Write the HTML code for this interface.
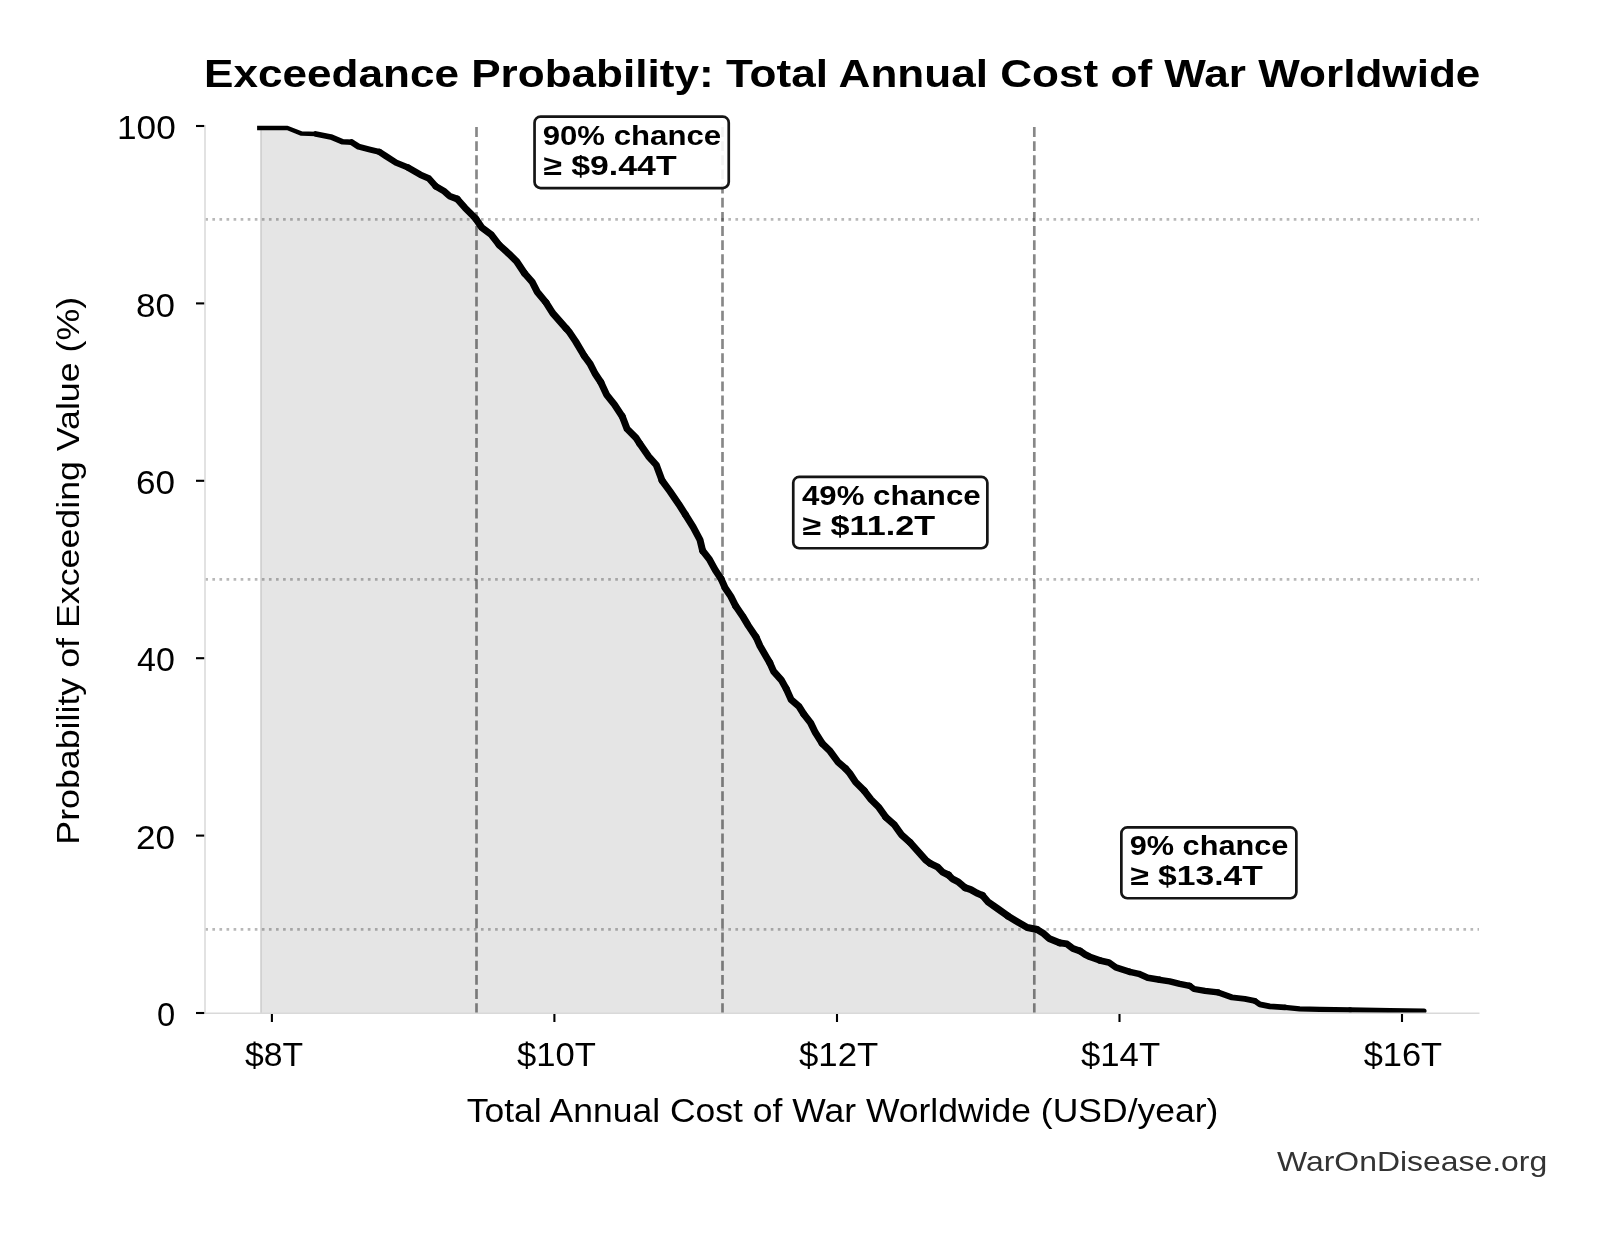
<!DOCTYPE html>
<html><head><meta charset="utf-8"><style>
html,body{margin:0;padding:0;background:#fff;width:1604px;height:1234px;overflow:hidden;}
svg{display:block;font-family:"Liberation Sans", sans-serif;will-change:transform;}
</style></head><body>
<svg width="1604" height="1234" viewBox="0 0 1604 1234">
<rect width="1604" height="1234" fill="#ffffff"/>
<path d="M261.0,128.0 L287.4,128.0 L301.6,133.6 L315.8,133.9 L330.8,136.9 L342.7,141.8 L351.7,142.2 L358.5,146.6 L370.0,149.6 L379.4,151.9 L385.3,155.8 L396.0,162.6 L407.7,167.4 L420.3,174.7 L429.0,178.6 L435.9,186.4 L443.6,190.8 L449.5,196.1 L457.2,199.0 L465.0,207.8 L472.8,215.6 L475.8,218.8 L481.7,227.5 L491.4,234.8 L499.2,245.0 L508.9,253.8 L516.7,261.5 L524.5,273.2 L532.2,282.0 L537.1,291.7 L545.9,302.4 L552.7,313.1 L559.5,320.9 L566.3,328.6 L569.7,332.6 L575.6,341.4 L584.3,356.0 L590.1,363.8 L595.0,373.5 L600.8,382.2 L606.7,394.9 L614.5,404.6 L622.2,416.3 L627.1,428.9 L635.9,437.7 L639.7,443.6 L648.5,456.3 L656.3,465.0 L662.1,480.6 L669.9,491.3 L678.6,503.9 L685.4,514.6 L693.2,527.2 L700.0,539.9 L702.6,550.7 L709.4,559.4 L715.3,570.1 L721.1,578.9 L725.0,587.7 L730.8,596.4 L735.7,606.1 L742.5,615.9 L748.3,625.6 L756.1,637.2 L760.0,646.0 L766.8,657.7 L769.7,662.6 L773.6,671.4 L781.4,680.1 L786.3,688.9 L791.1,699.6 L798.9,706.4 L803.8,714.2 L810.6,722.9 L815.4,732.7 L822.2,743.4 L830.0,751.1 L837.8,761.8 L845.6,768.6 L849.7,773.3 L855.6,782.1 L864.3,790.8 L871.1,799.6 L878.9,807.4 L885.7,817.1 L894.5,824.9 L901.3,834.6 L910.0,842.4 L917.8,851.1 L925.6,859.9 L930.0,863.3 L937.8,867.2 L942.6,872.1 L948.5,875.0 L952.4,878.9 L958.2,881.8 L965.0,887.7 L970.8,889.6 L976.7,893.0 L982.5,895.4 L988.3,902.2 L998.1,909.0 L1007.8,915.9 L1015.6,920.7 L1027.2,927.5 L1037.0,929.5 L1042.8,932.9 L1049.0,938.4 L1060.0,942.9 L1066.9,943.9 L1072.9,948.4 L1079.9,950.9 L1084.9,954.4 L1089.9,956.9 L1099.9,960.4 L1108.8,962.4 L1115.8,967.4 L1129.8,971.8 L1138.8,973.8 L1147.7,977.8 L1159.7,979.8 L1169.7,981.3 L1179.7,983.8 L1189.6,985.8 L1194.0,989.0 L1205.0,990.9 L1217.9,992.4 L1231.9,997.4 L1244.9,998.9 L1254.8,1000.9 L1259.8,1004.4 L1269.8,1006.4 L1284.8,1007.4 L1299.7,1008.9 L1319.7,1009.4 L1350.0,1009.9 L1390.0,1010.5 L1424.0,1011.0 L1424.0,1013.2 L261.0,1013.2 Z" fill="#e5e5e5"/>
<line x1="261.0" y1="128.0" x2="261.0" y2="1013" stroke="#c6c6c6" stroke-width="1.3"/>
<line x1="205.3" y1="219.4" x2="1479" y2="219.4" stroke="#000000" stroke-opacity="0.28" stroke-width="2.667" stroke-dasharray="2.667 4.401"/>
<line x1="205.3" y1="579.4" x2="1479" y2="579.4" stroke="#000000" stroke-opacity="0.28" stroke-width="2.667" stroke-dasharray="2.667 4.401"/>
<line x1="205.3" y1="929.4" x2="1479" y2="929.4" stroke="#000000" stroke-opacity="0.28" stroke-width="2.667" stroke-dasharray="2.667 4.401"/>
<line x1="476.5" y1="127.1" x2="476.5" y2="1013" stroke="#000000" stroke-opacity="0.47" stroke-width="2.667" stroke-dasharray="9.87 4.26"/>
<line x1="722.5" y1="127.1" x2="722.5" y2="1013" stroke="#000000" stroke-opacity="0.47" stroke-width="2.667" stroke-dasharray="9.87 4.26"/>
<line x1="1034.3" y1="127.1" x2="1034.3" y2="1013" stroke="#000000" stroke-opacity="0.47" stroke-width="2.667" stroke-dasharray="9.87 4.26"/>
<clipPath id="ax"><rect x="205" y="110" width="1274" height="903.2"/></clipPath>
<g clip-path="url(#ax)" fill="none" stroke="#000" stroke-linejoin="round" stroke-linecap="round">
<path d="M257.1,128.0 L287.4,128.0 L301.6,133.6 L315.8,133.9" stroke-width="4.54" stroke-linecap="butt"/>
<path d="M315.8,133.9 L330.8,136.9 L342.7,141.8 L351.7,142.2" stroke-width="5.65"/>
<path d="M351.7,142.2 L358.5,146.6 L370.0,149.6 L379.4,151.9" stroke-width="6.06"/>
<path d="M379.4,151.9 L385.3,155.8 L396.0,162.6 L407.7,167.4" stroke-width="6.42"/>
<path d="M407.7,167.4 L420.3,174.7 L429.0,178.6 L435.9,186.4" stroke-width="6.61"/>
<path d="M435.9,186.4 L443.6,190.8 L449.5,196.1 L457.2,199.0" stroke-width="6.73"/>
<path d="M457.2,199.0 L465.0,207.8 L472.8,215.6 L475.8,218.8" stroke-width="6.83"/>
<path d="M475.8,218.8 L481.7,227.5 L491.4,234.8 L499.2,245.0" stroke-width="6.94"/>
<path d="M499.2,245.0 L508.9,253.8 L516.7,261.5 L524.5,273.2" stroke-width="7.00"/>
<path d="M524.5,273.2 L532.2,282.0 L537.1,291.7 L545.9,302.4" stroke-width="7.00"/>
<path d="M545.9,302.4 L552.7,313.1 L559.5,320.9 L566.3,328.6" stroke-width="7.00"/>
<path d="M566.3,328.6 L569.7,332.6 L575.6,341.4 L584.3,356.0" stroke-width="7.00"/>
<path d="M584.3,356.0 L590.1,363.8 L595.0,373.5 L600.8,382.2" stroke-width="7.00"/>
<path d="M600.8,382.2 L606.7,394.9 L614.5,404.6 L622.2,416.3" stroke-width="7.00"/>
<path d="M622.2,416.3 L627.1,428.9 L635.9,437.7 L639.7,443.6" stroke-width="7.00"/>
<path d="M639.7,443.6 L648.5,456.3 L656.3,465.0 L662.1,480.6" stroke-width="7.00"/>
<path d="M662.1,480.6 L669.9,491.3 L678.6,503.9 L685.4,514.6" stroke-width="7.00"/>
<path d="M685.4,514.6 L693.2,527.2 L700.0,539.9 L702.6,550.7" stroke-width="7.00"/>
<path d="M702.6,550.7 L709.4,559.4 L715.3,570.1 L721.1,578.9" stroke-width="7.00"/>
<path d="M721.1,578.9 L725.0,587.7 L730.8,596.4 L735.7,606.1" stroke-width="7.00"/>
<path d="M735.7,606.1 L742.5,615.9 L748.3,625.6 L756.1,637.2" stroke-width="7.00"/>
<path d="M756.1,637.2 L760.0,646.0 L766.8,657.7 L769.7,662.6" stroke-width="7.00"/>
<path d="M769.7,662.6 L773.6,671.4 L781.4,680.1 L786.3,688.9" stroke-width="7.00"/>
<path d="M786.3,688.9 L791.1,699.6 L798.9,706.4 L803.8,714.2" stroke-width="7.00"/>
<path d="M803.8,714.2 L810.6,722.9 L815.4,732.7 L822.2,743.4" stroke-width="7.00"/>
<path d="M822.2,743.4 L830.0,751.1 L837.8,761.8 L845.6,768.6" stroke-width="7.00"/>
<path d="M845.6,768.6 L849.7,773.3 L855.6,782.1 L864.3,790.8" stroke-width="7.00"/>
<path d="M864.3,790.8 L871.1,799.6 L878.9,807.4 L885.7,817.1" stroke-width="7.00"/>
<path d="M885.7,817.1 L894.5,824.9 L901.3,834.6 L910.0,842.4" stroke-width="7.00"/>
<path d="M910.0,842.4 L917.8,851.1 L925.6,859.9 L930.0,863.3" stroke-width="7.00"/>
<path d="M930.0,863.3 L937.8,867.2 L942.6,872.1 L948.5,875.0" stroke-width="7.00"/>
<path d="M948.5,875.0 L952.4,878.9 L958.2,881.8 L965.0,887.7" stroke-width="7.00"/>
<path d="M965.0,887.7 L970.8,889.6 L976.7,893.0 L982.5,895.4" stroke-width="7.00"/>
<path d="M982.5,895.4 L988.3,902.2 L998.1,909.0 L1007.8,915.9" stroke-width="7.00"/>
<path d="M1007.8,915.9 L1015.6,920.7 L1027.2,927.5 L1037.0,929.5" stroke-width="7.00"/>
<path d="M1037.0,929.5 L1042.8,932.9 L1049.0,938.4 L1060.0,942.9" stroke-width="7.00"/>
<path d="M1060.0,942.9 L1066.9,943.9 L1072.9,948.4 L1079.9,950.9" stroke-width="6.89"/>
<path d="M1079.9,950.9 L1084.9,954.4 L1089.9,956.9 L1099.9,960.4" stroke-width="6.79"/>
<path d="M1099.9,960.4 L1108.8,962.4 L1115.8,967.4 L1129.8,971.8" stroke-width="6.65"/>
<path d="M1129.8,971.8 L1138.8,973.8 L1147.7,977.8 L1159.7,979.8" stroke-width="6.49"/>
<path d="M1159.7,979.8 L1169.7,981.3 L1179.7,983.8 L1189.6,985.8" stroke-width="6.34"/>
<path d="M1189.6,985.8 L1194.0,989.0 L1205.0,990.9 L1217.9,992.4" stroke-width="6.17"/>
<path d="M1217.9,992.4 L1231.9,997.4 L1244.9,998.9 L1254.8,1000.9" stroke-width="5.95"/>
<path d="M1254.8,1000.9 L1259.8,1004.4 L1269.8,1006.4 L1284.8,1007.4" stroke-width="5.71"/>
<path d="M1284.8,1007.4 L1299.7,1008.9 L1319.7,1009.4 L1350.0,1009.9" stroke-width="5.43"/>
<path d="M1350.0,1009.9 L1390.0,1010.5 L1424.0,1011.0" stroke-width="5.15"/>
</g>
<line x1="205" y1="125" x2="205" y2="1013.9" stroke="#d9d9d9" stroke-width="1.5"/>
<line x1="204.3" y1="1013.2" x2="1479.5" y2="1013.2" stroke="#d9d9d9" stroke-width="1.5"/>
<line x1="196" y1="126.0" x2="204.2" y2="126.0" stroke="#000" stroke-width="2.1"/>
<line x1="196" y1="303.4" x2="204.2" y2="303.4" stroke="#000" stroke-width="2.1"/>
<line x1="196" y1="480.8" x2="204.2" y2="480.8" stroke="#000" stroke-width="2.1"/>
<line x1="196" y1="658.2" x2="204.2" y2="658.2" stroke="#000" stroke-width="2.1"/>
<line x1="196" y1="835.6" x2="204.2" y2="835.6" stroke="#000" stroke-width="2.1"/>
<line x1="196" y1="1013.0" x2="204.2" y2="1013.0" stroke="#000" stroke-width="2.1"/>
<line x1="271.9" y1="1014" x2="271.9" y2="1022" stroke="#000" stroke-width="2.1"/>
<line x1="554.4" y1="1014" x2="554.4" y2="1022" stroke="#000" stroke-width="2.1"/>
<line x1="837.0" y1="1014" x2="837.0" y2="1022" stroke="#000" stroke-width="2.1"/>
<line x1="1119.5" y1="1014" x2="1119.5" y2="1022" stroke="#000" stroke-width="2.1"/>
<line x1="1402.0" y1="1014" x2="1402.0" y2="1022" stroke="#000" stroke-width="2.1"/>
<rect x="534.55" y="116.65" width="194.20" height="71.40" rx="6" ry="6" fill="#ffffff" fill-opacity="0.9" stroke="#151515" stroke-width="2.7"/>
<rect x="793.25" y="476.85" width="194.10" height="71.40" rx="6" ry="6" fill="#ffffff" fill-opacity="0.9" stroke="#151515" stroke-width="2.7"/>
<rect x="1121.35" y="827.35" width="175.00" height="70.90" rx="6" ry="6" fill="#ffffff" fill-opacity="0.9" stroke="#151515" stroke-width="2.7"/>
<text id="title" x="204.00" y="86.80" font-family='"Liberation Sans", sans-serif' font-size="39.32" font-weight="bold" textLength="1276.34" lengthAdjust="spacingAndGlyphs">Exceedance Probability: Total Annual Cost of War Worldwide</text>
<text id="y100" x="117.00" y="139.20" font-family='"Liberation Sans", sans-serif' font-size="32.40" textLength="58.76" lengthAdjust="spacingAndGlyphs">100</text>
<text id="y80" x="136.00" y="316.60" font-family='"Liberation Sans", sans-serif' font-size="32.40" textLength="38.92" lengthAdjust="spacingAndGlyphs">80</text>
<text id="y60" x="136.00" y="494.00" font-family='"Liberation Sans", sans-serif' font-size="32.40" textLength="39.05" lengthAdjust="spacingAndGlyphs">60</text>
<text id="y40" x="137.00" y="671.40" font-family='"Liberation Sans", sans-serif' font-size="32.40" textLength="37.84" lengthAdjust="spacingAndGlyphs">40</text>
<text id="y20" x="136.00" y="848.80" font-family='"Liberation Sans", sans-serif' font-size="32.40" textLength="39.05" lengthAdjust="spacingAndGlyphs">20</text>
<text id="y0" x="157.00" y="1026.20" font-family='"Liberation Sans", sans-serif' font-size="32.40" textLength="18.18" lengthAdjust="spacingAndGlyphs">0</text>
<text id="x8" x="245.00" y="1065.80" font-family='"Liberation Sans", sans-serif' font-size="32.60" textLength="58.08" lengthAdjust="spacingAndGlyphs">$8T</text>
<text id="x10" x="517.00" y="1065.80" font-family='"Liberation Sans", sans-serif' font-size="32.60" textLength="78.90" lengthAdjust="spacingAndGlyphs">$10T</text>
<text id="x12" x="799.00" y="1065.80" font-family='"Liberation Sans", sans-serif' font-size="32.60" textLength="79.18" lengthAdjust="spacingAndGlyphs">$12T</text>
<text id="x14" x="1081.00" y="1065.80" font-family='"Liberation Sans", sans-serif' font-size="32.60" textLength="79.16" lengthAdjust="spacingAndGlyphs">$14T</text>
<text id="x16" x="1363.70" y="1065.80" font-family='"Liberation Sans", sans-serif' font-size="32.60" textLength="78.45" lengthAdjust="spacingAndGlyphs">$16T</text>
<text id="xlabel" x="466.70" y="1122.20" font-family='"Liberation Sans", sans-serif' font-size="32.33" textLength="751.69" lengthAdjust="spacingAndGlyphs">Total Annual Cost of War Worldwide (USD/year)</text>
<text id="ylabel" transform="translate(79.30,844.70) rotate(-90)" x="0" y="0" font-family='"Liberation Sans", sans-serif' font-size="30.48" textLength="547.88" lengthAdjust="spacingAndGlyphs">Probability of Exceeding Value (%)</text>
<text id="b1t1" x="542.70" y="144.80" font-family='"Liberation Sans", sans-serif' font-size="28.20" font-weight="bold" textLength="178.38" lengthAdjust="spacingAndGlyphs">90% chance</text>
<text id="b1t2" x="543.30" y="175.00" font-family='"Liberation Sans", sans-serif' font-size="28.20" font-weight="bold" textLength="133.25" lengthAdjust="spacingAndGlyphs">≥ $9.44T</text>
<text id="b2t1" x="802.00" y="505.00" font-family='"Liberation Sans", sans-serif' font-size="28.20" font-weight="bold" textLength="178.59" lengthAdjust="spacingAndGlyphs">49% chance</text>
<text id="b2t2" x="802.30" y="535.20" font-family='"Liberation Sans", sans-serif' font-size="28.20" font-weight="bold" textLength="132.74" lengthAdjust="spacingAndGlyphs">≥ $11.2T</text>
<text id="b3t1" x="1129.70" y="854.90" font-family='"Liberation Sans", sans-serif' font-size="28.20" font-weight="bold" textLength="158.68" lengthAdjust="spacingAndGlyphs">9% chance</text>
<text id="b3t2" x="1130.30" y="884.80" font-family='"Liberation Sans", sans-serif' font-size="28.20" font-weight="bold" textLength="132.55" lengthAdjust="spacingAndGlyphs">≥ $13.4T</text>
<text id="wm" x="1277.00" y="1170.80" font-family='"Liberation Sans", sans-serif' font-size="28.25" fill="#333333" textLength="270.17" lengthAdjust="spacingAndGlyphs">WarOnDisease.org</text>
</svg>
</body></html>
